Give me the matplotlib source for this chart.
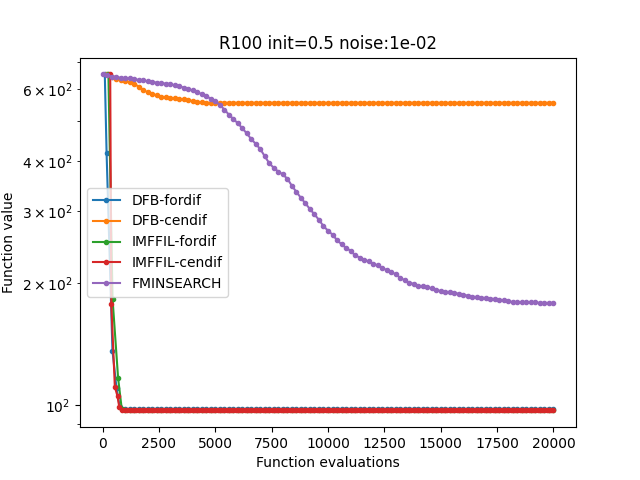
import numpy as np
import matplotlib
matplotlib.use("Agg")
import matplotlib.pyplot as plt

# function evaluations / function values
dfb_fordif_x = [100, 180, 440, 620, 760] + list(range(1000, 20001, 200))
dfb_fordif_y = [653, 417, 136, 110, 99] + [
    97.5, 97.5, 97.5, 97.5, 97.5, 97.5, 97.5, 97.5, 97.5, 97.5, 97.5, 97.5,
    97.5, 97.5, 97.5, 97.5, 97.5, 97.5, 97.5, 97.5, 97.5, 97.5, 97.5, 97.5,
    97.5, 97.5, 97.5, 97.5, 97.5, 97.5, 97.5, 97.5, 97.5, 97.5, 97.5, 97.5,
    97.5, 97.5, 97.5, 97.5, 97.5, 97.5, 97.5, 97.5, 97.5, 97.5, 97.5, 97.5,
    97.5, 97.5, 97.5, 97.5, 97.5, 97.5, 97.5, 97.5, 97.5, 97.5, 97.5, 97.5,
    97.5, 97.5, 97.5, 97.5, 97.5, 97.5, 97.5, 97.5, 97.5, 97.5, 97.5, 97.5,
    97.5, 97.5, 97.5, 97.5, 97.5, 97.5, 97.5, 97.5, 97.5, 97.5, 97.5, 97.5,
    97.5, 97.5, 97.5, 97.5, 97.5, 97.5, 97.5, 97.5, 97.5, 97.5, 97.5, 97.5]

dfb_cendif_x = list(range(200, 20001, 200))
dfb_cendif_y = [
    653, 645, 635, 631, 628, 624, 620, 609, 598, 590,
    585, 580, 576, 573, 571, 570, 568, 567, 565, 561,
    559, 557, 556, 556, 556, 556, 556, 556, 556, 556,
    556, 556, 556, 556, 556, 556, 556, 556, 556, 556,
    556, 556, 556, 556, 556, 556, 556, 556, 556, 556,
    556, 556, 556, 556, 556, 556, 556, 556, 556, 556,
    556, 556, 556, 556, 556, 556, 556, 556, 556, 556,
    556, 556, 556, 556, 556, 556, 556, 556, 556, 556,
    556, 556, 556, 556, 556, 556, 556, 556, 556, 556,
    556, 556, 556, 556, 556, 556, 556, 556, 556, 556]

imffil_fordif_x = [260, 443, 690, 850] + list(range(1000, 20001, 200))
imffil_fordif_y = [653, 183, 116.5, 98] + [
    97.2, 97.2, 97.2, 97.2, 97.2, 97.2, 97.2, 97.2, 97.2, 97.2, 97.2, 97.2,
    97.2, 97.2, 97.2, 97.2, 97.2, 97.2, 97.2, 97.2, 97.2, 97.2, 97.2, 97.2,
    97.2, 97.2, 97.2, 97.2, 97.2, 97.2, 97.2, 97.2, 97.2, 97.2, 97.2, 97.2,
    97.2, 97.2, 97.2, 97.2, 97.2, 97.2, 97.2, 97.2, 97.2, 97.2, 97.2, 97.2,
    97.2, 97.2, 97.2, 97.2, 97.2, 97.2, 97.2, 97.2, 97.2, 97.2, 97.2, 97.2,
    97.2, 97.2, 97.2, 97.2, 97.2, 97.2, 97.2, 97.2, 97.2, 97.2, 97.2, 97.2,
    97.2, 97.2, 97.2, 97.2, 97.2, 97.2, 97.2, 97.2, 97.2, 97.2, 97.2, 97.2,
    97.2, 97.2, 97.2, 97.2, 97.2, 97.2, 97.2, 97.2, 97.2, 97.2, 97.2, 97.2]

imffil_cendif_x = [340, 390, 545, 665, 740, 850] + list(range(1000, 20001, 100))
imffil_cendif_y = [653, 177, 111, 105, 99, 97.3] + [
    97, 97, 97, 97, 97, 97, 97, 97, 97, 97, 97, 97, 97, 97, 97, 97, 97, 97, 97, 97,
    97, 97, 97, 97, 97, 97, 97, 97, 97, 97, 97, 97, 97, 97, 97, 97, 97, 97, 97, 97,
    97, 97, 97, 97, 97, 97, 97, 97, 97, 97, 97, 97, 97, 97, 97, 97, 97, 97, 97, 97,
    97, 97, 97, 97, 97, 97, 97, 97, 97, 97, 97, 97, 97, 97, 97, 97, 97, 97, 97, 97,
    97, 97, 97, 97, 97, 97, 97, 97, 97, 97, 97, 97, 97, 97, 97, 97, 97, 97, 97, 97,
    97, 97, 97, 97, 97, 97, 97, 97, 97, 97, 97, 97, 97, 97, 97, 97, 97, 97, 97, 97,
    97, 97, 97, 97, 97, 97, 97, 97, 97, 97, 97, 97, 97, 97, 97, 97, 97, 97, 97, 97,
    97, 97, 97, 97, 97, 97, 97, 97, 97, 97, 97, 97, 97, 97, 97, 97, 97, 97, 97, 97,
    97, 97, 97, 97, 97, 97, 97, 97, 97, 97, 97, 97, 97, 97, 97, 97, 97, 97, 97, 97,
    97, 97, 97, 97, 97, 97, 97, 97, 97, 97, 97]

fminsearch_x = list(range(0, 20001, 200))
fminsearch_y = [
    653, 650, 645, 642, 641, 639, 638, 635, 633, 631,
    628, 626, 623, 621, 620, 618, 614, 610, 606, 601,
    596, 590, 584, 577, 569, 560, 550, 535, 520, 507,
    495, 481, 467, 452, 440, 427, 410, 394, 384, 376,
    370, 361, 347, 335, 324, 314, 304, 295, 286, 276,
    269, 263, 255, 249, 244, 240, 234, 231, 228, 226,
    223, 221, 218, 215, 213, 210, 206, 203, 200, 199,
    197, 196, 195, 194, 192, 191, 190, 190, 189, 188,
    187, 186, 185, 184.5, 184, 183.5, 183, 182.5, 182, 181,
    180, 179.5, 179, 179, 179, 179, 179, 178.5, 178.5, 178.5,
    178.5]

series = [
    ("DFB-fordif", dfb_fordif_x, dfb_fordif_y),
    ("DFB-cendif", dfb_cendif_x, dfb_cendif_y),
    ("IMFFIL-fordif", imffil_fordif_x, imffil_fordif_y),
    ("IMFFIL-cendif", imffil_cendif_x, imffil_cendif_y),
    ("FMINSEARCH", fminsearch_x, fminsearch_y),
]

fig, ax = plt.subplots(figsize=(6.4, 4.8), dpi=100)
for name, xs, ys in series:
    ax.plot(xs, ys, '.-', label=name)

ax.set_yscale('log')
ax.set_title("R100 init=0.5 noise:1e-02")
ax.set_xlabel("Function evaluations")
ax.set_ylabel("Function value")
ax.legend(loc='center left')

plt.savefig('out.png', dpi=100)
